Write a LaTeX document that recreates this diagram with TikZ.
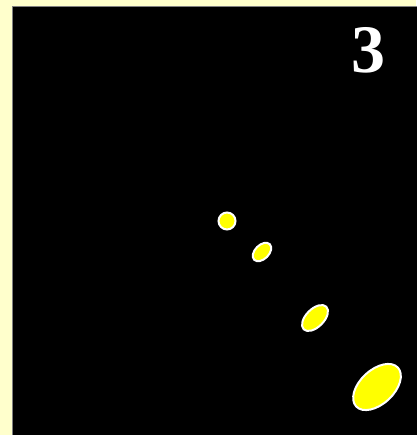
\documentclass[tikz,border=0pt]{standalone}
\usepackage{fontspec}
\setmainfont{Liberation Serif}
\usepackage{xcolor}
\usetikzlibrary{shapes.geometric}
\definecolor{paper}{RGB}{255,255,204}
\definecolor{spot}{RGB}{255,255,0}
\definecolor{rim}{RGB}{128,128,128}
\begin{document}
\begin{tikzpicture}[x=1pt,y=-1pt,
  blob/.style={ellipse,draw=white,fill=spot,line width=2pt,inner sep=0pt}]
% page and screen
\fill[paper] (0,0) rectangle (416,435);
\useasboundingbox (0,0) rectangle (416,435);
\draw[rim,fill=black,line width=1pt] (12.5,6.5) rectangle (418,437);
% frame number
\node[white,font=\fontsize{68}{68}\selectfont\bfseries] (num) at (368,50) {3};
% spots, growing down the diagonal
\node[blob,minimum width=17pt,minimum height=17pt] (s1) at (227,221) {};
\node[blob,minimum width=22pt,minimum height=14pt,rotate=45] (s2) at (262,252) {};
\node[blob,minimum width=32pt,minimum height=18pt,rotate=45] (s3) at (315,318) {};
\node[blob,minimum width=57pt,minimum height=34pt,rotate=43] (s4) at (377,387) {};
\end{tikzpicture}
\end{document}
